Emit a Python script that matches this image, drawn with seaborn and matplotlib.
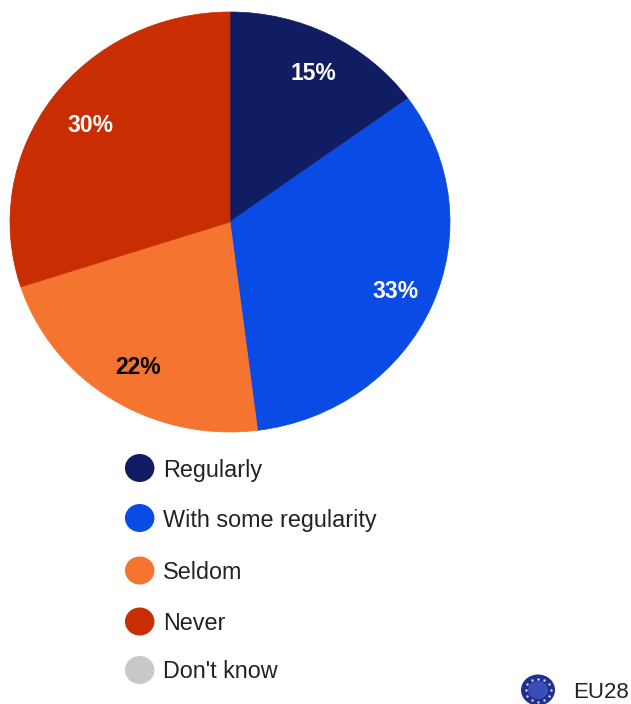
import numpy as np
import matplotlib
matplotlib.use("Agg")
import matplotlib.pyplot as plt
from matplotlib.patches import Ellipse
import seaborn as sns

sns.set_theme(style="white")
plt.rcParams['font.family'] = ['Liberation Sans', 'DejaVu Sans']

categories = ["Regularly", "With some regularity", "Seldom", "Never"]
values = [15, 33, 22, 30]
labels = ["15%", "33%", "22%", "30%"]
colors = ["#111D63", "#0A4BE6", "#F47430", "#C92D02"]
label_colors = ["white", "white", "black", "white"]
legend_names = categories + ["Don't know"]
legend_colors = colors + ["#C8C8C8"]
legend_y = [468, 518, 570.5, 621.5, 670]
label_pos = [(313, 74), (395, 292), (138, 367), (90, 126)]

W, H = 631, 704
fig = plt.figure(figsize=(W/100, H/100), dpi=100, facecolor="white")

# the reference pie is slightly flattened: 440 px wide, 420 px high
pie_ax = fig.add_axes([10/W, 1 - 432/H, 440/W, 420/H])
wedges, _ = pie_ax.pie(values, colors=colors, startangle=90, counterclock=False, radius=1)
for w, c in zip(wedges, colors):
    w.set_edgecolor(c)
    w.set_linewidth(0.5)
pie_ax.set_aspect("auto")
pie_ax.set_xlim(-1, 1); pie_ax.set_ylim(-1, 1)
pie_ax.axis("off")

ax = fig.add_axes([0, 0, 1, 1], facecolor="none")
ax.set_xlim(0, W); ax.set_ylim(H, 0); ax.axis("off")

for (x, y), t, c in zip(label_pos, labels, label_colors):
    ax.text(x, y, t, color=c, ha="center", va="center", fontsize=16.5, fontweight="bold")

for y, n, c in zip(legend_y, legend_names, legend_colors):
    ax.add_patch(Ellipse((139.7, y), 29.5, 28, color=c, lw=0))
    ax.text(163, y + 2, n, color="#222222", ha="left", va="center", fontsize=16.8)

flag_x, flag_y = 538, 690
ax.add_patch(Ellipse((flag_x, flag_y), 34, 31, color="#1F2F96", lw=0))
ax.add_patch(Ellipse((flag_x, flag_y), 20, 18, color="#3A4DB8", lw=0))
star_angles = np.deg2rad(np.arange(0, 360, 30))
ax.scatter(flag_x + 12.5*np.cos(star_angles), flag_y + 11.5*np.sin(star_angles),
           s=3, color="#D9DDB0", linewidths=0, zorder=3)
ax.text(573, 692.5, "EU28", color="#222222", ha="left", va="center", fontsize=16)
fig.savefig("out.png", dpi=100)
